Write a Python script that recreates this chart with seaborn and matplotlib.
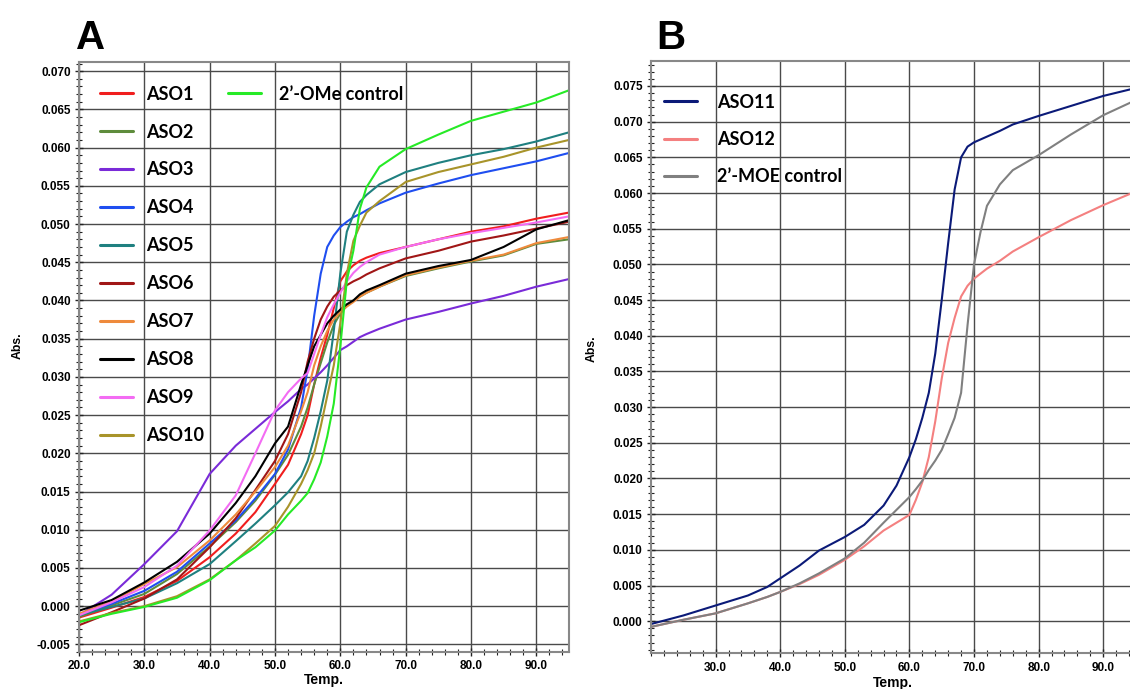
import pandas as pd
import matplotlib.pyplot as plt
import seaborn as sns
from matplotlib.ticker import MultipleLocator, FormatStrFormatter

# ---- Panel A: 2'-OMe ASOs ----
temp_a = [20, 25, 30, 35, 40, 44, 47, 50, 52, 54, 55, 56, 57, 58, 59, 60,
          61, 62, 63, 64, 66, 70, 75, 80, 85, 90, 95]
aso1 = [-0.0015, -0.0002, 0.0012, 0.0033, 0.0064, 0.0095, 0.0123, 0.0160, 0.0185, 0.0225, 0.0250, 0.0290, 0.0325, 0.0355,
        0.0390, 0.0425, 0.0438, 0.0446, 0.0452, 0.0456, 0.0462, 0.0470, 0.0480, 0.0490, 0.0497, 0.0507, 0.0515]
aso2 = [-0.0014, 0.0001, 0.0016, 0.0042, 0.0078, 0.0110, 0.0138, 0.0172, 0.0198, 0.0235, 0.0260, 0.0290, 0.0318, 0.0345,
        0.0368, 0.0383, 0.0393, 0.0400, 0.0405, 0.0410, 0.0418, 0.0432, 0.0442, 0.0451, 0.0459, 0.0474, 0.0480]
aso3 = [-0.0012, 0.0015, 0.0055, 0.0098, 0.0173, 0.0210, 0.0232, 0.0254, 0.0268, 0.0284, 0.0290, 0.0298, 0.0306, 0.0315,
        0.0325, 0.0335, 0.0340, 0.0346, 0.0352, 0.0356, 0.0363, 0.0375, 0.0385, 0.0396, 0.0406, 0.0418, 0.0428]
aso4 = [-0.0012, 0.0003, 0.0020, 0.0045, 0.0082, 0.0112, 0.0141, 0.0173, 0.0205, 0.0260, 0.0310, 0.0380, 0.0435, 0.0470,
        0.0485, 0.0496, 0.0503, 0.0509, 0.0513, 0.0518, 0.0527, 0.0541, 0.0553, 0.0564, 0.0573, 0.0582, 0.0593]
aso5 = [-0.0012, -0.0001, 0.0010, 0.0030, 0.0055, 0.0085, 0.0108, 0.0132, 0.0149, 0.0170, 0.0190, 0.0220, 0.0255, 0.0295,
        0.0360, 0.0435, 0.0490, 0.0512, 0.0529, 0.0538, 0.0552, 0.0568, 0.0580, 0.0590, 0.0598, 0.0608, 0.0620]
aso6 = [-0.0025, -0.0008, 0.0010, 0.0035, 0.0077, 0.0115, 0.0152, 0.0190, 0.0225, 0.0280, 0.0320, 0.0350, 0.0375, 0.0392,
        0.0405, 0.0413, 0.0420, 0.0425, 0.0429, 0.0434, 0.0442, 0.0455, 0.0465, 0.0477, 0.0485, 0.0494, 0.0503]
aso7 = [-0.0010, 0.0006, 0.0029, 0.0051, 0.0086, 0.0120, 0.0150, 0.0182, 0.0210, 0.0255, 0.0280, 0.0315, 0.0340, 0.0360,
        0.0375, 0.0385, 0.0392, 0.0398, 0.0405, 0.0410, 0.0418, 0.0433, 0.0443, 0.0452, 0.0460, 0.0475, 0.0483]
aso8 = [-0.0006, 0.0008, 0.0031, 0.0058, 0.0095, 0.0135, 0.0170, 0.0213, 0.0235, 0.0290, 0.0315, 0.0340, 0.0355, 0.0370,
        0.0380, 0.0388, 0.0395, 0.0400, 0.0408, 0.0413, 0.0420, 0.0435, 0.0445, 0.0453, 0.0470, 0.0493, 0.0505]
aso9 = [-0.0012, 0.0005, 0.0025, 0.0053, 0.0099, 0.0145, 0.0200, 0.0256, 0.0280, 0.0298, 0.0305, 0.0330, 0.0355, 0.0378,
        0.0395, 0.0410, 0.0425, 0.0436, 0.0444, 0.0450, 0.0460, 0.0470, 0.0480, 0.0488, 0.0495, 0.0502, 0.0510]
aso10 = [-0.0020, -0.0009, 0.0000, 0.0013, 0.0035, 0.0060, 0.0082, 0.0105, 0.0130, 0.0160, 0.0178, 0.0200, 0.0235, 0.0275,
         0.0315, 0.0370, 0.0435, 0.0478, 0.0498, 0.0515, 0.0530, 0.0555, 0.0568, 0.0578, 0.0588, 0.0600, 0.0610]
ome_ctrl = [-0.0021, -0.0010, -0.0001, 0.0011, 0.0034, 0.0060, 0.0077, 0.0099, 0.0120, 0.0138, 0.0148, 0.0166, 0.0188, 0.0222,
            0.0265, 0.0340, 0.0426, 0.0465, 0.0520, 0.0548, 0.0575, 0.0598, 0.0617, 0.0635, 0.0647, 0.0659, 0.0675]

names_a = ['ASO1', 'ASO2', 'ASO3', 'ASO4', 'ASO5', 'ASO6', 'ASO7', 'ASO8', 'ASO9', 'ASO10', '2\u2019-OMe control']
values_a = [aso1, aso2, aso3, aso4, aso5, aso6, aso7, aso8, aso9, aso10, ome_ctrl]
colors_a = ['#f01e1e', '#5e8c3c', '#7a2bd8', '#1f4ef0', '#1f8080', '#a01616', '#ee8a3c', '#000000', '#f36cf3', '#a8942a', '#26ea26']

# ---- Panel B: 2'-MOE ASOs ----
temp_b = [20, 25, 30, 35, 38, 40, 43, 46, 50, 53, 56, 58, 60, 61, 62, 63, 64, 65, 66, 67, 68, 69, 70,
          71, 72, 74, 76, 80, 85, 90, 95]
aso11 = [-0.0004, 0.0008, 0.0022, 0.0036, 0.0048, 0.0060, 0.0078, 0.0099, 0.0118, 0.0135, 0.0162, 0.0190, 0.0230, 0.0255,
         0.0285, 0.0320, 0.0375, 0.0450, 0.0530, 0.0605, 0.0650, 0.0665, 0.0671, 0.0675, 0.0679, 0.0687, 0.0696, 0.0708,
         0.0722, 0.0736, 0.0747]
aso12 = [-0.0008, 0.0002, 0.0011, 0.0025, 0.0034, 0.0041, 0.0052, 0.0065, 0.0086, 0.0105, 0.0127, 0.0138, 0.0149, 0.0170,
         0.0195, 0.0230, 0.0280, 0.0340, 0.0390, 0.0425, 0.0455, 0.0470, 0.0480, 0.0487, 0.0494, 0.0505, 0.0518, 0.0538,
         0.0562, 0.0583, 0.0602]
moe_ctrl = [-0.0008, 0.0002, 0.0011, 0.0025, 0.0034, 0.0041, 0.0053, 0.0067, 0.0088, 0.0110, 0.0138, 0.0156, 0.0174, 0.0185,
            0.0197, 0.0212, 0.0225, 0.0240, 0.0262, 0.0285, 0.0320, 0.0415, 0.0500, 0.0545, 0.0582, 0.0612, 0.0632, 0.0653,
            0.0682, 0.0709, 0.0730]

names_b = ['ASO11', 'ASO12', '2\u2019-MOE control']
values_b = [aso11, aso12, moe_ctrl]
colors_b = ['#0b1a78', '#f48080', '#808080']


def to_long(temp, names, values):
  df = pd.DataFrame({'Temp.': temp})
  for n, v in zip(names, values):
    df[n] = v
  return df.melt(id_vars='Temp.', var_name='sample', value_name='Abs.')


def style_axis(ax, xmajor, ylo, yhi, ymajor):
  ax.set_xlim(20, 95)
  ax.set_ylim(ylo, yhi)
  ax.set_xticks(xmajor)
  ax.set_yticks(ymajor)
  ax.xaxis.set_minor_locator(MultipleLocator(2))
  ax.yaxis.set_minor_locator(MultipleLocator(0.001))
  ax.xaxis.set_major_formatter(FormatStrFormatter('%.1f'))
  ax.yaxis.set_major_formatter(FormatStrFormatter('%.3f'))
  ax.tick_params(which='both', bottom=True, left=True, top=False, right=False)
  ax.tick_params(which='major', direction='inout', length=6, width=1, color='#222222', pad=3)
  ax.tick_params(which='minor', direction='inout', length=4, width=0.8, color='#222222')
  for lab in ax.get_xticklabels() + ax.get_yticklabels():
    lab.set_fontweight('bold')
    lab.set_fontsize(8.5)
  ax.grid(True, which='major', color='#4a4a4a', lw=1.0)
  ax.set_axisbelow(True)
  for sp in ax.spines.values():
    sp.set_color('#888888')
    sp.set_linewidth(1.5)
  ax.set_xlabel('Temp.', fontsize=10, fontweight='bold')
  ax.set_ylabel('Abs.', fontsize=8.8, fontweight='bold')


def plot_panels():
  sns.set_style('ticks', {'text.color': 'black', 'axes.labelcolor': 'black',
                          'xtick.color': 'black', 'ytick.color': 'black'})
  plt.rcParams['font.family'] = ['Liberation Sans', 'DejaVu Sans']
  fig = plt.figure(figsize=(11.3, 6.89), dpi=100)
  leg_font = {'family': 'Lato', 'weight': 'bold', 'size': 13}

  # Panel A
  ax = fig.add_axes([0.0699, 0.0537, 0.4336, 0.8563])
  dfa = to_long(temp_a, names_a, values_a)
  for n, c in zip(names_a, colors_a):
    sns.lineplot(data=dfa[dfa['sample'] == n], x='Temp.', y='Abs.', color=c, lw=1.5, ax=ax, label=n)
  style_axis(ax, list(range(20, 91, 10)), -0.006, 0.0712,
             [round(-0.005 + 0.005 * i, 3) for i in range(16)])
  ax.xaxis.set_label_coords(0.5, -0.036)
  ax.yaxis.set_label_coords(-0.112, 0.52)
  h, l = ax.get_legend_handles_labels()
  leg1 = ax.legend(h[:10], l[:10], loc='upper left', bbox_to_anchor=(0.043, 0.960), frameon=False, prop=leg_font,
                   handlelength=1.85, handletextpad=0.7, labelspacing=1.16, borderpad=0, borderaxespad=0)
  ax.add_artist(leg1)
  ax.legend(h[10:], l[10:], loc='upper left', bbox_to_anchor=(0.304, 0.960), frameon=False, prop=leg_font,
            handlelength=1.85, handletextpad=1.0, borderpad=0, borderaxespad=0)
  for lg in [leg1, ax.get_legend()]:
    for line in lg.get_lines():
      line.set_linewidth(2.2)

  # Panel B (plot area runs past the right edge of the figure)
  bx = fig.add_axes([0.5761, 0.0518, 0.4288, 0.8597])
  dfb = to_long(temp_b, names_b, values_b)
  for n, c in zip(names_b, colors_b):
    sns.lineplot(data=dfb[dfb['sample'] == n], x='Temp.', y='Abs.', color=c, lw=1.5, ax=bx, label=n)
  style_axis(bx, list(range(30, 91, 10)), -0.0045, 0.0785,
             [round(0.005 * i, 3) for i in range(16)])
  bx.xaxis.set_label_coords(0.5, -0.038)
  bx.yaxis.set_label_coords(-0.111, 0.515)
  h, l = bx.get_legend_handles_labels()
  legb = bx.legend(h, l, loc='upper left', bbox_to_anchor=(0.027, 0.945), frameon=False, prop=leg_font,
                   handlelength=1.85, handletextpad=1.1, labelspacing=1.13, borderpad=0, borderaxespad=0)
  for line in legb.get_lines():
    line.set_linewidth(2.2)

  fig.text(0.067, 1 - 49 / 689, 'A', fontsize=29, fontweight='bold', va='baseline', color='black')
  fig.text(0.5805, 1 - 49 / 689, 'B', fontsize=29, fontweight='bold', va='baseline', color='black')

  fig.savefig('out.png', dpi=100)


if __name__ == '__main__':
  plot_panels()
